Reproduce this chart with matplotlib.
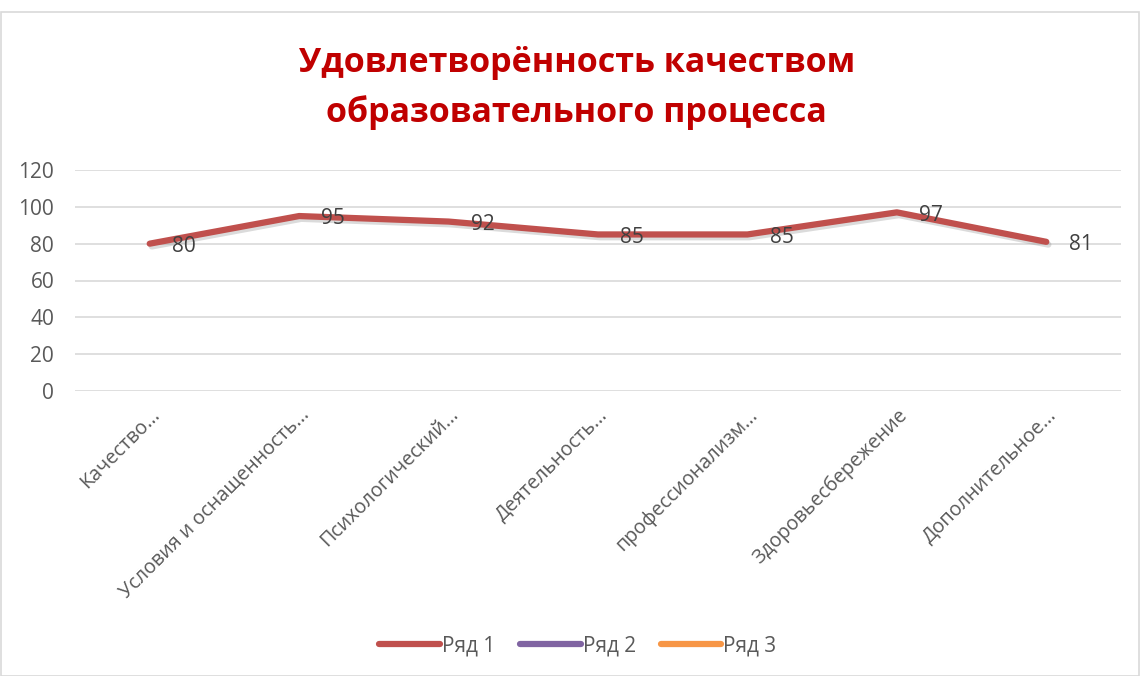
import numpy as np
import matplotlib.pyplot as plt
import matplotlib.patheffects as pe
from matplotlib.lines import Line2D
from matplotlib.patches import Rectangle

plt.rcParams['font.family'] = ['Open Sans', 'DejaVu Sans']

categories = ['Качество...', 'Условия и оснащенность...', 'Психологический...',
              'Деятельность...', 'профессионализм...', 'Здоровьесбережение',
              'Дополнительное...']
series1 = [80, 95, 92, 85, 85, 97, 81]
series_names = ['Ряд 1', 'Ряд 2', 'Ряд 3']
series_colors = ['#C0504D', '#8064A2', '#F79646']
title = 'Удовлетворённость качеством\nобразовательного процесса'

W, H = 1142, 676
fig = plt.figure(figsize=(W / 100, H / 100), dpi=100)
# plot area in pixel coords: x 75..1121, y 170..391
ax = fig.add_axes([75 / W, 1 - 391 / H, (1121 - 75) / W, (391 - 170) / H])

x = np.arange(len(categories))
ax.plot(x, series1, color=series_colors[0], lw=4.5, solid_capstyle='round',
        solid_joinstyle='round', zorder=3,
        path_effects=[pe.SimpleLineShadow(offset=(1.5, -2), shadow_color='#888888', alpha=0.3),
                      pe.Normal()])
for xi, v in zip(x, series1):
    ax.annotate(str(v), (xi, v), xytext=(16, -2), textcoords='offset points',
                ha='left', va='center', fontsize=15, color='#404040', zorder=4)

ax.set_xlim(-0.5, len(categories) - 0.5)
ax.set_ylim(0, 120)
ax.set_yticks(range(0, 121, 20))
ax.yaxis.grid(True, color='#D9D9D9', lw=1.2)
ax.set_axisbelow(True)
for s in ax.spines.values():
    s.set_visible(False)
ax.tick_params(axis='both', length=0, labelsize=15, labelcolor='#595959')
ax.tick_params(axis='y', pad=15)
ax.set_xticks(x)
ax.set_xticklabels(categories, rotation=45, ha='right', rotation_mode='anchor')
ax.tick_params(axis='x', pad=10, labelsize=14.2)

fig.text(0.505, 1 - 88 / H, title, ha='center', va='center', fontsize=24.5,
         fontweight='bold', color='#C00000', linespacing=1.55)

handles = [Line2D([0], [0], color=c, lw=4.5, solid_capstyle='round') for c in series_colors]
fig.legend(handles, series_names, loc='center', bbox_to_anchor=(0.506, 1 - 646 / H),
           ncol=3, frameon=False, fontsize=15, handlelength=2.9, handletextpad=0.1,
           columnspacing=1.2, labelcolor='#595959')

fig.patches.append(Rectangle((0.5 / W, 0), 1 - 4 / W, 1 - 12 / H, transform=fig.transFigure,
                             fill=False, edgecolor='#D9D9D9', lw=1.2))

fig.savefig('out.png', dpi=100, facecolor='white')
